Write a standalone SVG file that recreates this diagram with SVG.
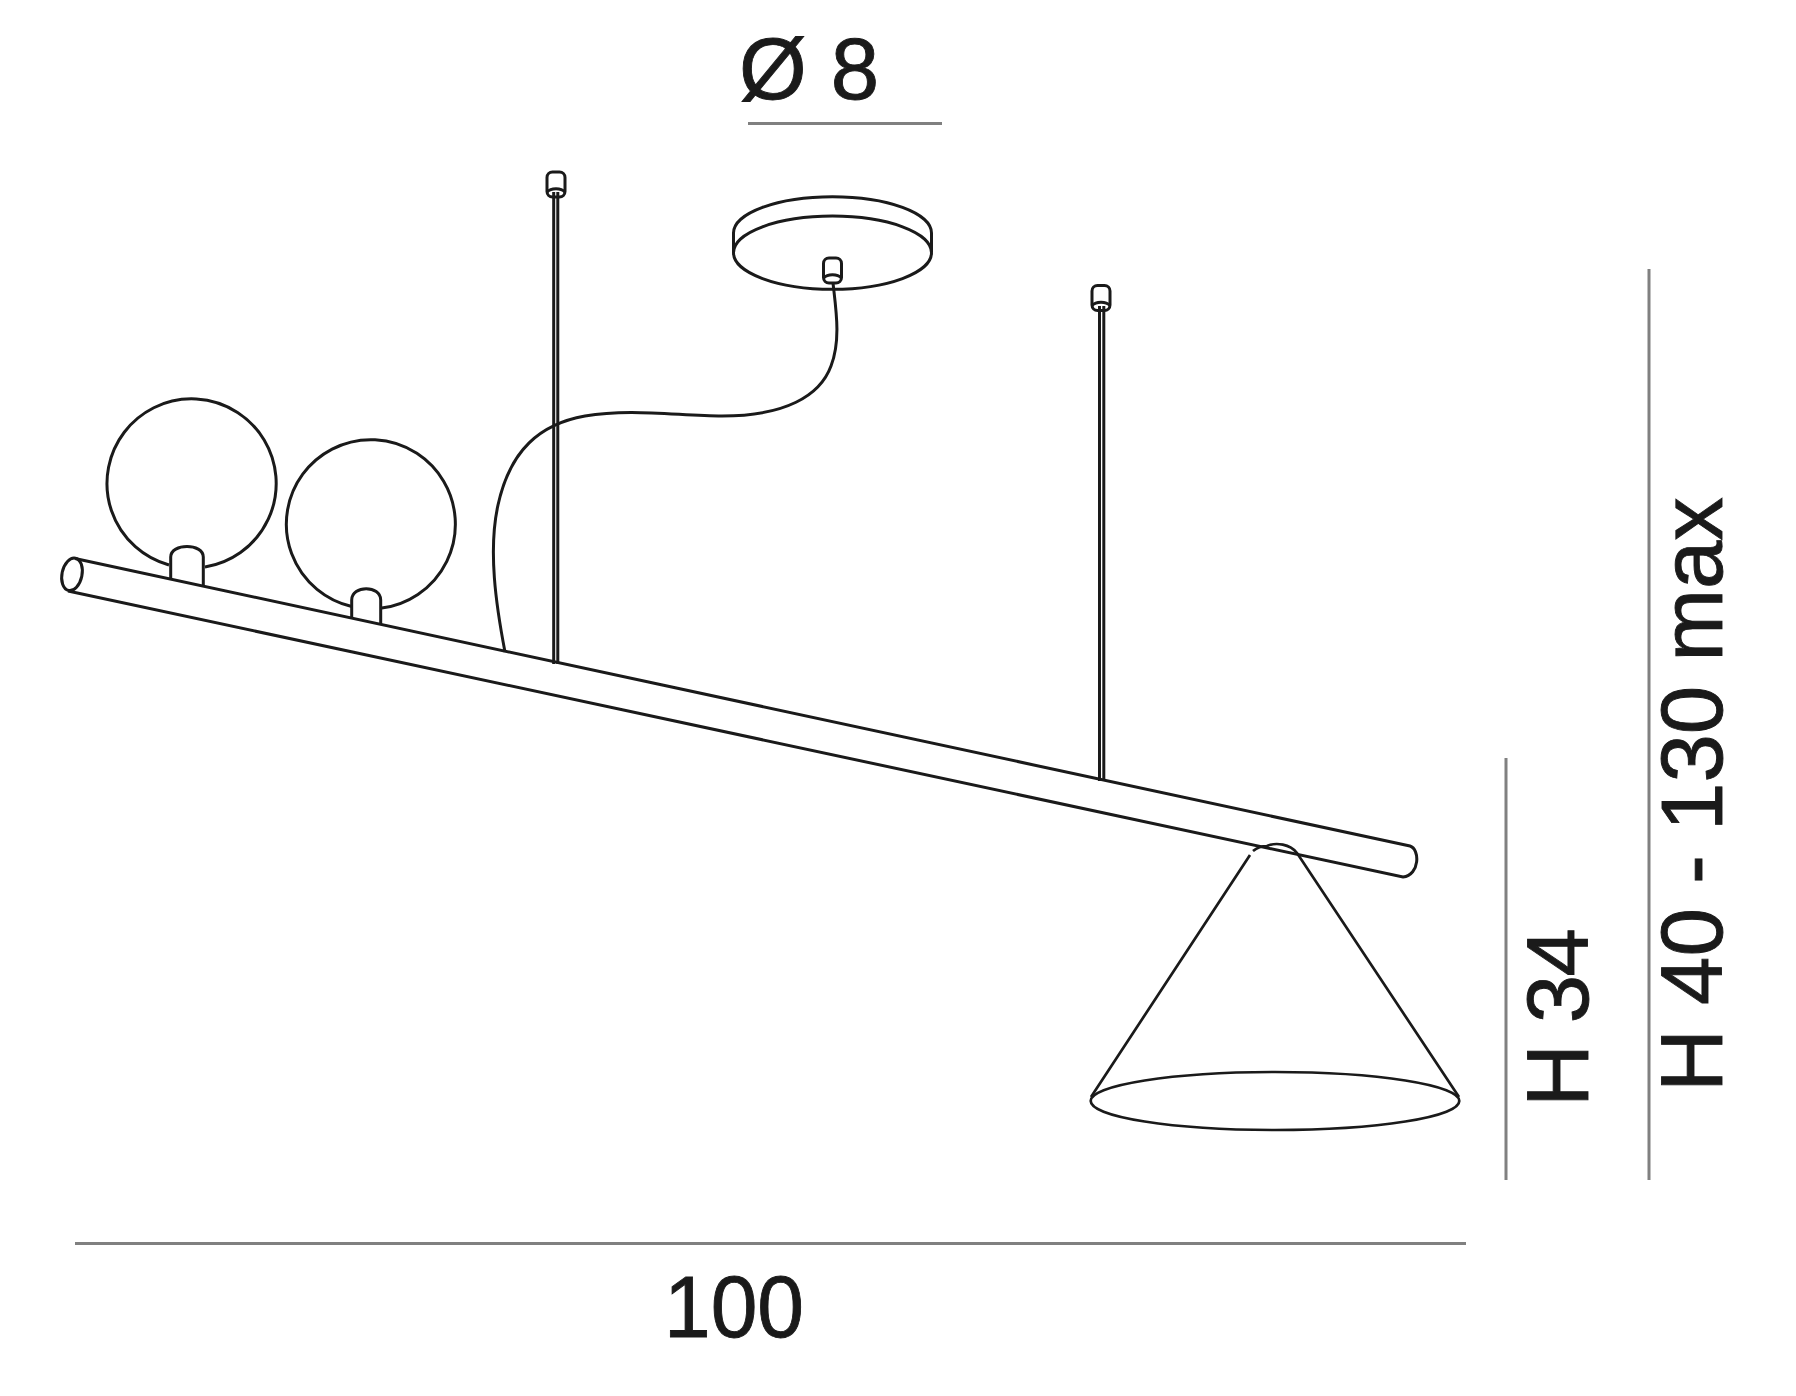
<svg xmlns="http://www.w3.org/2000/svg" width="1796" height="1396" viewBox="0 0 1796 1396">
<defs>
<g id="cap"><rect class="l" x="-9" y="0" width="18" height="25" rx="5.5"/><path class="l" d="M-9 20C-5 15.500 5 15.500 9 20"/></g>
</defs>
<style>
.l{fill:none;stroke:#1a1a1a;stroke-width:3}
.c{fill:none;stroke:#1a1a1a;stroke-width:2.700}
.d{fill:none;stroke:#808080;stroke-width:3}
text{font-family:"Liberation Sans",Arial,sans-serif;fill:#1a1a1a;stroke:#1a1a1a;stroke-width:.9;font-size:87px}
</style>
<rect width="1796" height="1396" fill="#fff"/>
<g id="dimensions">
<path class="d" d="M748 123.500H942M75 1243.500H1466M1506 758V1180M1649 269V1180"/>
</g>
<g id="labels">
<text x="739" y="99">Ø 8</text>
<text x="664" y="1337" textLength="140" lengthAdjust="spacingAndGlyphs">100</text>
<text transform="translate(1588 1107) rotate(-90)" textLength="179">H 34</text>
<text transform="translate(1722 1092) rotate(-90)">H 40 - 130 max</text>
</g>
<g id="bar"><path class="l" d="M75 558.500L1410 846C1420 849 1420 875 1403 877L68 591"/><ellipse class="l" cx="72" cy="574.300" rx="10" ry="16.500" transform="rotate(12 72 574.300)"/></g>
<g id="globe1"><path class="l" d="M169 565A84.600 84.600 0 1 1 205 567"/><path class="l" d="M170.700 580V557C170.700 543 203.300 543 203.300 557V587"/></g>
<g id="globe2"><path class="l" d="M351.700 606.500A84.500 84.500 0 1 1 381.700 608"/><path class="l" d="M351.700 619V600C351.700 585 380.700 585 380.700 600V625"/></g>
<g id="cable"><path class="l" d="M833 283C836 310 841 340 831 366C820 396 785 416 722 416C680 416 630 408 585 416C540 424 510 450 498 505C488 550 496 605 505 652"/></g>
<g id="rod1"><path class="l" d="M553.700 664V192M557.800 664V192"/><use href="#cap" x="556" y="172"/></g>
<g id="rod2"><path class="l" d="M1099.500 781V306M1103.800 781V306"/><use href="#cap" x="1101" y="285.500"/></g>
<g id="canopy"><ellipse class="l" cx="832.500" cy="252.700" rx="99" ry="36.600"/><path class="l" d="M733.500 252V233A99 36.300 0 0 1 931.500 233V252"/><use href="#cap" x="832.500" y="258"/></g>
<g id="cone"><ellipse class="c" cx="1275" cy="1101" rx="184.300" ry="29"/><path class="c" d="M1091 1097L1250 855M1253 851C1259 846 1264 846 1267 846C1276 842 1290 844 1297 853L1459 1097"/></g>
</svg>
